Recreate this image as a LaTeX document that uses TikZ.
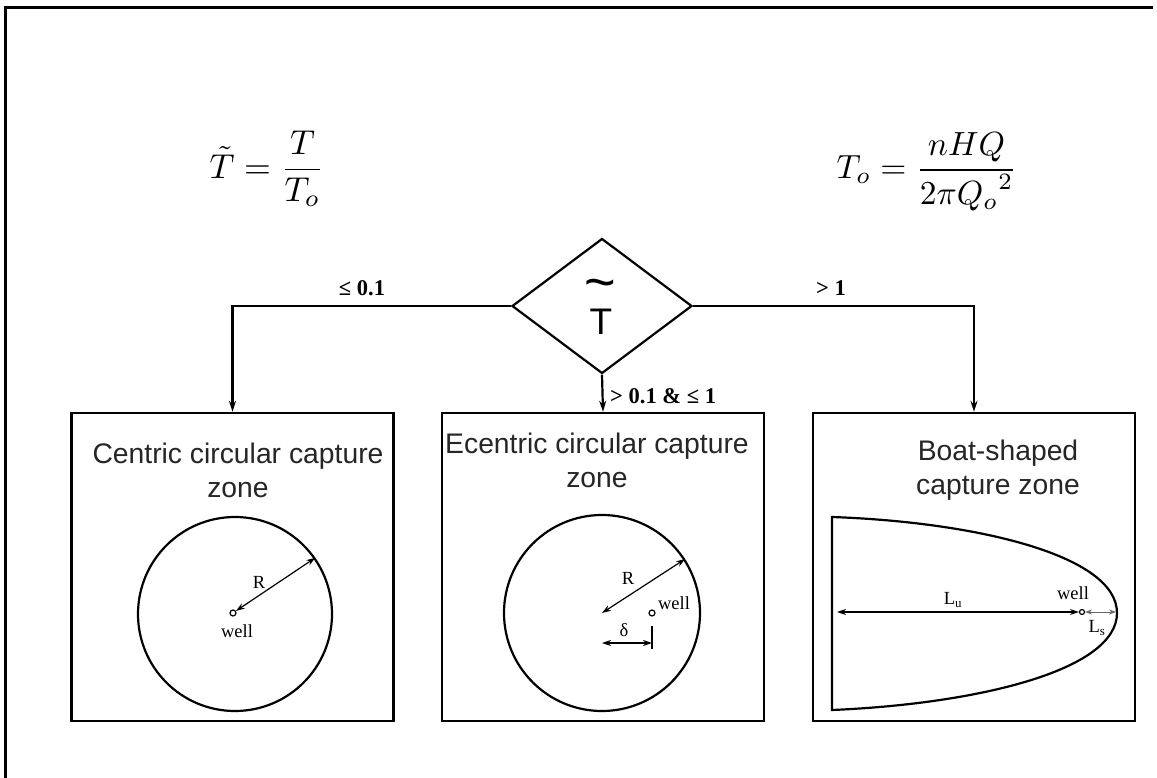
\documentclass[tikz,border=0pt]{standalone}
\usepackage{fontspec}
\setmainfont{Liberation Serif}
\newfontfamily\arialf{Liberation Sans}
\usepackage{amsmath}
\usetikzlibrary{shapes.geometric,arrows.meta}
\begin{document}
\begin{tikzpicture}[x=1pt,y=-1pt,
  conn/.style={line width=2.2pt,-{Stealth[length=11pt,width=7pt]}},
  zonebox/.style={draw,line width=2.4pt,minimum width=322pt,minimum height=308pt,inner sep=0pt},
  ttl/.style={font=\arialf\fontsize{28.3}{34}\selectfont,align=center,text=black!85},
  lbl/.style={font=\bfseries\fontsize{22.5}{22.5}\selectfont,inner sep=1pt},
  small/.style={font=\fontsize{18.5}{18.5}\selectfont,inner sep=1pt},
  dim/.style={line width=1.2pt,{Stealth[length=9pt,width=6pt]}-{Stealth[length=9pt,width=6pt]}},
  zone/.style={line width=2.2pt},
  welldot/.style={circle,draw,line width=1.2pt,minimum size=6pt,inner sep=0pt}]
\fill[white] (0,0) rectangle (1157,778);
\useasboundingbox (0,0) rectangle (1157,778);
% outer frame
\draw[line width=3pt] (5,778) -- (5,8) -- (1153,8);
% formulas
\node[scale=3.45] (f1) at (267,169) {$\displaystyle \tilde{T}=\frac{T}{T_o}$};
\node[scale=3.35] (f2) at (927,172) {$\displaystyle T_o=\frac{nHQ}{2\pi {Q_o}^2}$};
% decision
\node[diamond,draw,line width=2.2pt,minimum width=180pt,minimum height=135pt,inner sep=0pt] (dec) at (602,306) {};
\node[font=\arialf\fontsize{37}{37}\selectfont,inner sep=0pt] (tT) at (601,322) {T};
\node[font=\arialf\fontsize{54}{54}\selectfont,inner sep=0pt,anchor=base] (tTil) at (600,301) {\smash{\textasciitilde}};
% boxes
\node[zonebox] (b1) at (232.5,567) {};
\node[zonebox] (b2) at (603,567) {};
\node[zonebox] (b3) at (974,567) {};
% connectors
\draw[conn] (dec.west) -| (b1.north);
\draw[conn] (dec.south) -- (b2.north);
\draw[conn] (dec.east) -| (b3.north);
\node[lbl] (l1) at (362,288) {≤ 0.1};
\node[lbl,anchor=west] (l2) at (609,396) {> 0.1 \& ≤ 1};
\node[lbl] (l3) at (831,288) {> 1};
% titles
\node[ttl] (t1) at (238,470) {Centric circular capture\\zone};
\node[ttl] (t2) at (597,460) {Ecentric circular capture\\zone};
\node[ttl] (t3) at (998,470) {Boat-shaped\\capture zone};
% zone 1
\node[circle,draw,zone,minimum size=194pt,inner sep=0pt] (c1) at (235,614) {};
\node[welldot] (w1) at (233,613) {};
\node[small] (wl1) at (237,631) {well};
\draw[dim] (w1.35) -- (c1.35);
\node[small] (r1) at (259,582) {R};
% zone 2
\node[circle,draw,zone,minimum size=196pt,inner sep=0pt] (c2) at (602,613) {};
\node[welldot] (w2) at (652,613) {};
\node[small] (wl2) at (674,603) {well};
\draw[dim] (c2.center) -- (c2.33);
\node[small] (r2) at (628,578) {R};
\coordinate (tk1) at (652,626);
\coordinate (tk2) at (652,649);
\draw[line width=1.2pt] (tk1) -- (tk2);
\coordinate (d1) at (602,643);
\coordinate (d2) at (652,643);
\draw[dim] (d1) -- (d2);
\node[small] (dl) at (624,630) {δ};
% zone 3
\draw[zone] (832,517) .. controls (975,522) and (1117,555) .. (1117,613)
  .. controls (1117,671) and (975,704) .. (832,710) -- cycle;
\node[welldot,minimum size=5pt] (w3) at (1082,612) {};
\node[small] (wl3) at (1073,593) {well};
\coordinate (lu1) at (837,612);
\coordinate (ls2) at (1116,612);
\draw[dim] (lu1) -- (w3.west);
\node[small] (lul) at (953,600) {L\textsubscript{u}};
\draw[line width=0.8pt,black!60,{Stealth[length=7pt,width=5pt]}-{Stealth[length=7pt,width=5pt]}] (w3.east) -- (ls2);
\node[small] (lsl) at (1097,628) {L\textsubscript{s}};
\end{tikzpicture}
\end{document}
